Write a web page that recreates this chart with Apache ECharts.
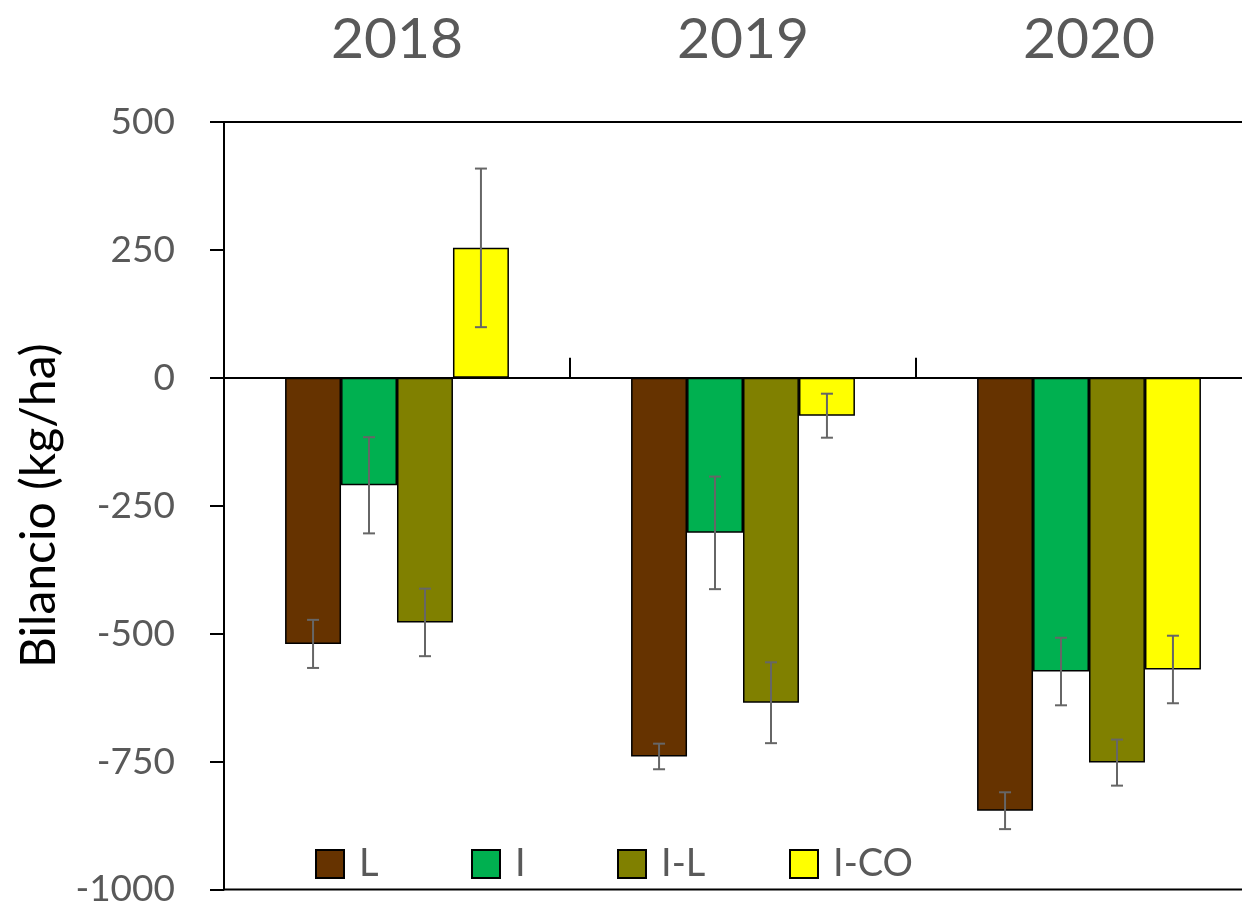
<!DOCTYPE html>
<html>
<head>
<meta charset="utf-8">
<script src="https://cdn.jsdelivr.net/npm/echarts@6/dist/echarts.min.js"></script>
<style>
  html, body { margin: 0; padding: 0; background: #fff; overflow: hidden; }
  /* the plot area runs a little past the right edge of the window */
  #chart { width: 1262px; height: 908px; }
</style>
</head>
<body>
<div id="chart"></div>
<script>
// Nutrient balance per treatment and year (kg/ha), with standard errors
const years = ['2018', '2019', '2020'];
const seriesNames = ['L', 'I', 'I-L', 'I-CO'];
const seriesColors = ['#663300', '#00B050', '#808000', '#FFFF00'];

const valuesL   = [-520, -740, -846];
const valuesI   = [-210, -303, -574];
const valuesIL  = [-478, -635, -752];
const valuesICO = [254, -74, -570];

const errorsL   = [47, 25, 36];
const errorsI   = [94, 110, 66];
const errorsIL  = [66, 79, 45];
const errorsICO = [155, 43, 66];

const yTicks = { min: -1000, max: 500, interval: 250 };

const allValues = [valuesL, valuesI, valuesIL, valuesICO];
const allErrors = [errorsL, errorsI, errorsIL, errorsICO];

const CATEGORY_GAP = 0.353;
const FONT = 'Lato, "Open Sans", sans-serif';
const LEGEND_LEFT = [315, 471, 617, 789];

const chart = echarts.init(document.getElementById('chart'));

const barSeries = seriesNames.map((name, i) => ({
  name: name,
  type: 'bar',
  xAxisIndex: 0,
  data: allValues[i],
  barGap: '0%',
  barCategoryGap: (CATEGORY_GAP * 100) + '%',
  itemStyle: { color: seriesColors[i], borderColor: '#000', borderWidth: 1.5 },
  emphasis: { disabled: true },
  z: 2
}));

const errorSeries = seriesNames.map((name, i) => ({
  name: name + ' err',
  type: 'custom',
  xAxisIndex: 0,
  data: years.map((y, k) => [k, allValues[i][k], allErrors[i][k]]),
  encode: { x: 0, y: 1 },
  z: 5,
  silent: true,
  renderItem: function (params, api) {
    const cat = api.value(0);
    const v = api.value(1);
    const e = api.value(2);
    const band = api.size([1, 0])[0];
    const barW = band * (1 - CATEGORY_GAP) / seriesNames.length;
    const cx = api.coord([cat, v])[0] + (i - (seriesNames.length - 1) / 2) * barW;
    const yHi = api.coord([cat, v + e])[1];
    const yLo = api.coord([cat, v - e])[1];
    const cap = 6;
    const style = { stroke: '#666666', lineWidth: 2 };
    return {
      type: 'group',
      children: [
        { type: 'line', shape: { x1: cx, y1: yHi, x2: cx, y2: yLo }, style: style },
        { type: 'line', shape: { x1: cx - cap, y1: yHi, x2: cx + cap, y2: yHi }, style: style },
        { type: 'line', shape: { x1: cx - cap, y1: yLo, x2: cx + cap, y2: yLo }, style: style }
      ]
    };
  }
}));

// one legend per treatment so each entry sits at its own spot
const legends = seriesNames.map((name, i) => ({
  data: [name],
  left: LEGEND_LEFT[i],
  top: 845,
  itemWidth: 28,
  itemHeight: 28,
  icon: 'rect',
  padding: 0,
  textStyle: { fontSize: 38, color: '#595959', fontFamily: FONT, padding: [0, 0, 0, 10] },
  selectedMode: false
}));

chart.setOption({
  animation: false,
  textStyle: { fontFamily: FONT },
  grid: {
    left: 224, right: 0, top: 122, bottom: 18,
    show: true, borderColor: '#000', borderWidth: 2, backgroundColor: 'transparent'
  },
  legend: legends,
  xAxis: [
    {
      type: 'category',
      data: years,
      position: 'bottom',
      axisLine: { onZero: true, lineStyle: { color: '#000', width: 2 } },
      axisTick: { show: true, inside: true, length: 20, lineStyle: { color: '#000', width: 2 } },
      axisLabel: { show: false },
      splitLine: { show: false }
    },
    {
      type: 'category',
      data: years,
      position: 'top',
      axisLine: { show: false, onZero: false },
      axisTick: { show: false },
      axisLabel: { fontSize: 57, color: '#595959', margin: 54, fontFamily: FONT },
      splitLine: { show: false }
    }
  ],
  yAxis: {
    type: 'value',
    min: yTicks.min,
    max: yTicks.max,
    interval: yTicks.interval,
    name: 'Bilancio (kg/ha)',
    nameLocation: 'middle',
    nameGap: 160,
    nameTextStyle: { fontSize: 48, color: '#000', fontFamily: FONT },
    axisLine: { show: true, lineStyle: { color: '#000', width: 2 } },
    axisTick: { show: true, length: 14, lineStyle: { color: '#000', width: 2 } },
    axisLabel: {
      fontSize: 37, color: '#595959', margin: 49, fontFamily: FONT,
      formatter: function (v) { return String(v); }
    },
    splitLine: { show: false }
  },
  series: barSeries.concat(errorSeries)
});
</script>
</body>
</html>
